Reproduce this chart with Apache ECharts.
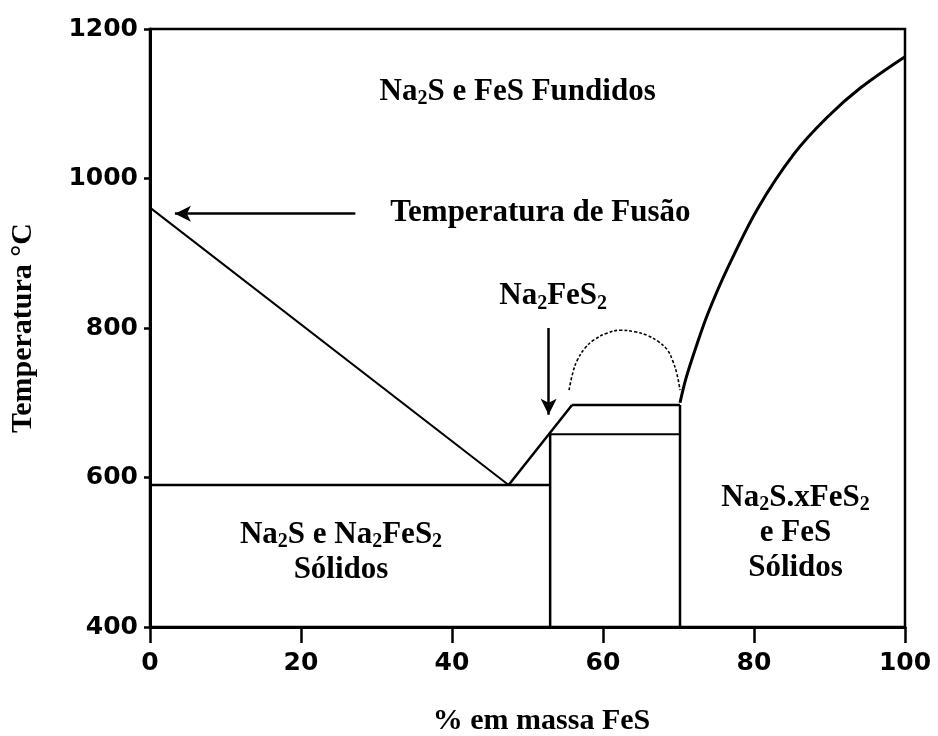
<!DOCTYPE html>
<html>
<head>
<meta charset="utf-8">
<script src="https://cdn.jsdelivr.net/npm/echarts@6/dist/echarts.min.js"></script>
<style>
html,body{margin:0;padding:0;background:#fff;}
#chart{width:938px;height:736px;}
</style>
</head>
<body>
<div id="chart"></div>
<script>
// ---- Axis ticks ----
const xTicks = [0, 20, 40, 60, 80, 100];
const yTicks = [400, 600, 800, 1000, 1200];

// ---- Phase boundary lines (x = % FeS, y = °C) ----
const liquidusLeft = [[0, 961], [47.5, 590]];
const eutecticLine = [[0, 590], [53, 590]];
const liquidusMid = [[47.5, 590], [55.9, 697]];
const peritecticLine = [[55.9, 697], [70.2, 697]];
const compoundTop = [[53, 658], [70.2, 658]];
const compoundLeftWall = [[53, 400], [53, 658]];
const compoundRightWall = [[70.2, 400], [70.2, 697]];
const liquidusRight = [[70.2, 700], [71, 733], [72.5, 780], [74, 822], [76.5, 880], [80.5, 960],
  [85.3, 1033], [89.7, 1082], [94.2, 1122], [100, 1163]];
const dome = [[55.5, 717], [56.0, 740], [56.6, 757], [57.6, 773], [58.8, 784], [60.5, 793], [62.3, 797],
  [64.2, 795], [65.9, 790], [67.3, 782], [68.5, 771], [69.2, 757], [69.8, 738], [70.2, 717]];

// ---- Arrows ----
const arrowFusion = [[27.2, 953], [3.3, 953]];
const arrowCompound = [[52.8, 800], [52.8, 684]];

// ---- Annotations ----
const annotationText = [
  '{t|Na}{s|2}{t|S e FeS Fundidos}',
  '{t|Temperatura de Fusão}',
  '{t|Na}{s|2}{t|FeS}{s|2}',
  '{t|Na}{s|2}{t|S e Na}{s|2}{t|FeS}{s|2}\n{t|Sólidos}',
  '{t|Na}{s|2}{t|S.xFeS}{s|2}\n{t|e FeS}\n{t|Sólidos}'
];
const annotationAt = [[48.7, 1116], [51.7, 954], [53.4, 843], [25.3, 500], [85.5, 526]];

const serif = '"Liberation Serif", "Times New Roman", serif';
const black = '#000';

function seg(data, width, extra) {
  return Object.assign({
    type: 'line', data: data, symbol: 'none', silent: true,
    lineStyle: { color: black, width: width }, z: 3
  }, extra || {});
}

const chart = echarts.init(document.getElementById('chart'), null, { renderer: 'canvas' });
const option = {
  backgroundColor: '#fff',
  animation: false,
  grid: { left: 150, right: 33, top: 29, bottom: 109, containLabel: false, outerBoundsMode: 'none',
    show: true, borderColor: black, borderWidth: 2.5 },
  xAxis: {
    type: 'value', min: xTicks[0], max: xTicks[xTicks.length - 1], interval: xTicks[1] - xTicks[0],
    name: '% em massa FeS', nameLocation: 'middle', nameGap: 79,
    nameTextStyle: { fontFamily: serif, fontWeight: 'bold', fontSize: 30, color: black, padding: [0, 0, 0, 28] },
    axisLine: { lineStyle: { color: black, width: 3 } },
    axisTick: { inside: false, length: 16, lineStyle: { color: black, width: 2.5 } },
    axisLabel: { margin: 24, fontFamily: '"DejaVu Sans", Verdana, sans-serif', fontWeight: 'bold', fontSize: 25, color: black,
      formatter: v => String(v) },
    splitLine: { show: false }
  },
  yAxis: {
    type: 'value', min: yTicks[0], max: yTicks[yTicks.length - 1], interval: yTicks[1] - yTicks[0],
    name: 'Temperatura °C', nameLocation: 'middle', nameGap: 112,
    nameTextStyle: { fontFamily: serif, fontWeight: 'bold', fontSize: 30, color: black },
    axisLine: { lineStyle: { color: black, width: 3 } },
    axisTick: { inside: false, length: 6, lineStyle: { color: black, width: 2.5 } },
    axisLabel: { margin: 12, fontFamily: '"DejaVu Sans", Verdana, sans-serif', fontWeight: 'bold', fontSize: 25, color: black,
      formatter: v => String(v) },
    splitLine: { show: false }
  },
  series: [
    seg(liquidusLeft, 2),
    seg(eutecticLine, 2.5),
    seg(liquidusMid, 2.5),
    seg(peritecticLine, 2.5),
    seg(compoundTop, 2),
    seg(compoundLeftWall, 2.5),
    seg(compoundRightWall, 2.5),
    seg(liquidusRight, 3, { smooth: 0.35 }),
    seg(dome, 1.5, { smooth: 0.4, lineStyle: { color: black, width: 1.6, type: [3, 2] } }),
    {
      type: 'line', data: [], symbol: 'none', silent: true,
      markLine: {
        silent: true, animation: false,
        symbol: ['none', 'arrow'], symbolSize: [12, 16],
        label: { show: false },
        lineStyle: { color: black, width: 2.5, type: 'solid' },
        data: [
          [{ coord: arrowFusion[0] }, { coord: arrowFusion[1] }],
          [{ coord: arrowCompound[0] }, { coord: arrowCompound[1] }]
        ]
      }
    },
    {
      type: 'scatter', symbolSize: 0, silent: true, z: 5,
      itemStyle: { opacity: 1, color: black },
      data: annotationAt.map((p, i) => ({ value: p, label: { formatter: annotationText[i] } })),
      label: {
        show: true, position: 'inside', align: 'center', verticalAlign: 'middle',
        color: black, opacity: 1,
        rich: {
          t: { fontFamily: serif, fontWeight: 'bold', fontSize: 31, lineHeight: 35, color: black, verticalAlign: 'middle' },
          s: { fontFamily: serif, fontWeight: 'bold', fontSize: 20, lineHeight: 12, color: black, verticalAlign: 'bottom' }
        }
      }
    }
  ]
};
chart.setOption(option);
</script>
</body>
</html>
